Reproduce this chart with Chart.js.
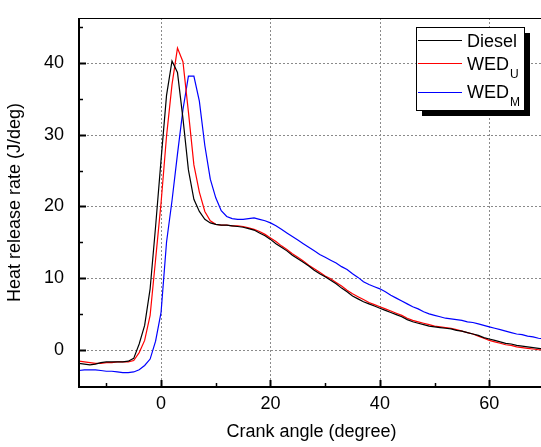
<!DOCTYPE html>
<html>
<head>
<meta charset="utf-8">
<script src="https://cdn.jsdelivr.net/npm/chart.js@4.4.0/dist/chart.umd.min.js"></script>
<style>
  html, body { margin: 0; padding: 0; background: #fff; overflow: hidden; }
</style>
</head>
<body>
<canvas id="hrr" width="545" height="447"></canvas>
<script>
// crank angle (deg) and heat release rate (J/deg)
const crankAngle = [-15, -14, -13, -12, -11, -10, -9, -8, -7, -6,
  -5, -4, -3, -2, -1, 0, 1, 2, 3, 4,
  5, 6, 7, 8, 9, 10, 11, 12, 13, 14,
  15, 16, 17, 18, 19, 20, 21, 22, 23, 24,
  25, 26, 27, 28, 29, 30, 31, 32, 33, 34,
  35, 36, 37, 38, 39, 40, 41, 42, 43, 44,
  45, 46, 47, 48, 49, 50, 51, 52, 53, 54,
  55, 56, 57, 58, 59, 60, 61, 62, 63, 64,
  65, 66, 67, 68, 69, 70];

const diesel = [-1.9, -2.0, -2.1, -2.0, -1.8, -1.7, -1.7, -1.7, -1.7, -1.6,
  -1.2, 0.8, 3.4, 8.5, 17.2, 26.5, 35.5, 40.3, 38.7, 32.3,
  25.1, 21.0, 19.3, 18.2, 17.7, 17.5, 17.4, 17.4, 17.3, 17.2,
  17.1, 16.9, 16.7, 16.3, 15.9, 15.4, 14.8, 14.3, 13.8, 13.2,
  12.7, 12.2, 11.7, 11.1, 10.6, 10.2, 9.7, 9.2, 8.6, 8.1,
  7.5, 7.1, 6.7, 6.4, 6.1, 5.8, 5.5, 5.2, 4.9, 4.6,
  4.2, 3.9, 3.7, 3.5, 3.3, 3.2, 3.1, 3.0, 2.9, 2.7,
  2.6, 2.4, 2.2, 2.0, 1.7, 1.5, 1.3, 1.1, 0.9, 0.8,
  0.6, 0.5, 0.4, 0.3, 0.2, 0.1];

const wedU = [-1.6, -1.7, -1.8, -1.9, -1.9, -1.8, -1.8, -1.7, -1.7, -1.7,
  -1.5, -0.4, 1.3, 4.8, 12.6, 20.5, 29.8, 37.0, 42.1, 40.2,
  33.2, 25.8, 22.0, 19.3, 18.0, 17.5, 17.4, 17.4, 17.3, 17.3,
  17.2, 17.0, 16.8, 16.5, 16.1, 15.6, 15.1, 14.5, 14.0, 13.4,
  12.9, 12.4, 11.8, 11.3, 10.8, 10.3, 9.9, 9.4, 8.9, 8.3,
  7.8, 7.4, 7.0, 6.6, 6.3, 6.0, 5.7, 5.4, 5.1, 4.8,
  4.4, 4.1, 3.9, 3.7, 3.5, 3.3, 3.2, 3.1, 3.0, 2.8,
  2.6, 2.4, 2.2, 1.9, 1.6, 1.3, 1.1, 0.9, 0.7, 0.6,
  0.4, 0.3, 0.2, 0.1, 0.0, 0.0];

const wedM = [-2.9, -2.8, -2.8, -2.8, -2.9, -3.0, -3.0, -3.1, -3.2, -3.2,
  -3.1, -2.8, -2.2, -1.3, 1.2, 5.2, 15.0, 20.8, 27.3, 33.5,
  38.2, 38.2, 34.7, 28.5, 23.8, 21.2, 19.4, 18.6, 18.3, 18.2,
  18.2, 18.3, 18.4, 18.2, 18.0, 17.7, 17.3, 16.8, 16.3, 15.8,
  15.3, 14.8, 14.3, 13.8, 13.3, 12.9, 12.5, 12.1, 11.6, 11.2,
  10.6, 10.1, 9.5, 9.1, 8.8, 8.5, 8.1, 7.6, 7.2, 6.8,
  6.4, 6.0, 5.7, 5.3, 5.0, 4.8, 4.6, 4.4, 4.3, 4.2,
  4.1, 3.9, 3.8, 3.6, 3.4, 3.2, 3.0, 2.8, 2.6, 2.4,
  2.2, 2.1, 1.9, 1.8, 1.6, 1.5];

const xTicks = [0, 20, 40, 60];
const xMinor = [-10, 10, 30, 50];
const yTicks = [0, 10, 20, 30, 40];
const yMinor = [5, 15, 25, 35, 45];

const seriesNames = ['Diesel', 'WED', 'WED'];
const seriesSubs = ['', 'U', 'M'];
const seriesColors = ['#000000', '#ff0000', '#0000ff'];

const FONT = '"Liberation Sans", Arial, sans-serif';
Chart.defaults.font.family = FONT;
Chart.defaults.color = '#000';

function pts(values) {
    return crankAngle.map((a, i) => ({ x: a, y: values[i] }));
}

// grid, axis frame, inward ticks and the boxed legend
const framePlugin = {
    id: 'frame',
    beforeDatasetsDraw(chart) {
        const { ctx, chartArea: a, scales: { x, y } } = chart;
        ctx.save();
        ctx.strokeStyle = '#8a8a8a';
        ctx.lineWidth = 1;
        ctx.setLineDash([2, 2]);
        xTicks.forEach(v => {
            const px = Math.round(x.getPixelForValue(v)) + 0.5;
            ctx.beginPath();
            ctx.moveTo(px, a.top);
            ctx.lineTo(px, a.bottom);
            ctx.stroke();
        });
        yTicks.forEach(v => {
            const py = Math.round(y.getPixelForValue(v)) + 0.5;
            ctx.beginPath();
            ctx.moveTo(a.left, py);
            ctx.lineTo(a.right, py);
            ctx.stroke();
        });
        ctx.restore();
    },
    afterDatasetsDraw(chart) {
        const { ctx, chartArea: a, scales: { x, y } } = chart;
        ctx.save();
        ctx.strokeStyle = '#000';

        // frame
        ctx.lineWidth = 1;
        ctx.beginPath();
        ctx.moveTo(a.left, a.top + 0.5);
        ctx.lineTo(a.right, a.top + 0.5);
        ctx.stroke();
        ctx.lineWidth = 2;
        ctx.beginPath();
        ctx.moveTo(a.left, a.top);
        ctx.lineTo(a.left, a.bottom);
        ctx.lineTo(a.right, a.bottom);
        ctx.stroke();

        // ticks pointing inward
        const tick = (vals, len, w) => {
            ctx.lineWidth = w;
            vals.x.forEach(v => {
                const px = Math.round(x.getPixelForValue(v)) + 0.5;
                ctx.beginPath();
                ctx.moveTo(px, a.bottom);
                ctx.lineTo(px, a.bottom - len);
                ctx.stroke();
            });
            vals.y.forEach(v => {
                const py = Math.round(y.getPixelForValue(v)) + 0.5;
                ctx.beginPath();
                ctx.moveTo(a.left, py);
                ctx.lineTo(a.left + len, py);
                ctx.stroke();
            });
        };
        tick({ x: xTicks, y: yTicks }, 7, 2);
        tick({ x: xMinor, y: yMinor }, 4, 1.5);

        // legend with shadow
        const lx = 416, ly = 27, lw = 108, lh = 83;
        ctx.fillStyle = '#000';
        ctx.fillRect(lx + 6, ly + 6, lw, lh);
        ctx.fillStyle = '#fff';
        ctx.fillRect(lx, ly, lw, lh);
        ctx.lineWidth = 1;
        ctx.strokeRect(lx + 0.5, ly + 0.5, lw, lh);

        const lineY = [40.5, 63.5, 92.5];
        const baseY = [47, 70, 98];
        seriesNames.forEach((name, i) => {
            ctx.strokeStyle = seriesColors[i];
            ctx.lineWidth = 1;
            ctx.beginPath();
            ctx.moveTo(418, lineY[i]);
            ctx.lineTo(462, lineY[i]);
            ctx.stroke();
            ctx.fillStyle = '#000';
            ctx.textAlign = 'left';
            ctx.textBaseline = 'alphabetic';
            ctx.font = '18px ' + FONT;
            ctx.fillText(name, 467, baseY[i]);
            if (seriesSubs[i]) {
                const w = ctx.measureText(name).width;
                ctx.font = '12px ' + FONT;
                ctx.fillText(seriesSubs[i], 467 + w + 1, baseY[i] + 8);
            }
        });
        ctx.restore();
    }
};

new Chart(document.getElementById('hrr'), {
    type: 'line',
    data: {
        datasets: [
            { label: 'Diesel', data: pts(diesel), borderColor: seriesColors[0] },
            { label: 'WED_U', data: pts(wedU), borderColor: seriesColors[1] },
            { label: 'WED_M', data: pts(wedM), borderColor: seriesColors[2] }
        ]
    },
    options: {
        responsive: false,
        animation: false,
        devicePixelRatio: 1,
        layout: { padding: { top: 18, right: 1, left: 0, bottom: 0 } },
        elements: {
            line: { borderWidth: 1.2, tension: 0, fill: false },
            point: { radius: 0 }
        },
        plugins: {
            legend: { display: false },
            tooltip: { enabled: false }
        },
        scales: {
            x: {
                type: 'linear',
                min: -15,
                max: 70,
                afterBuildTicks: s => { s.ticks = xTicks.map(v => ({ value: v })); },
                afterFit: s => { s.height = 60; },
                grid: { display: false },
                border: { display: false },
                ticks: { font: { size: 18 }, padding: -2, maxRotation: 0 },
                title: {
                    display: true,
                    text: 'Crank angle (degree)',
                    font: { size: 18 },
                    padding: { top: 0, bottom: 4 }
                }
            },
            y: {
                type: 'linear',
                min: -5.2,
                max: 46.3,
                afterBuildTicks: s => { s.ticks = yTicks.map(v => ({ value: v })); },
                afterFit: s => { s.width = 79; },
                grid: { display: false },
                border: { display: false },
                ticks: { font: { size: 18 }, padding: 7 },
                title: {
                    display: true,
                    text: 'Heat release rate (J/deg)',
                    font: { size: 18 },
                    padding: { top: 4, bottom: 0 }
                }
            }
        }
    },
    plugins: [framePlugin]
});
</script>
</body>
</html>
